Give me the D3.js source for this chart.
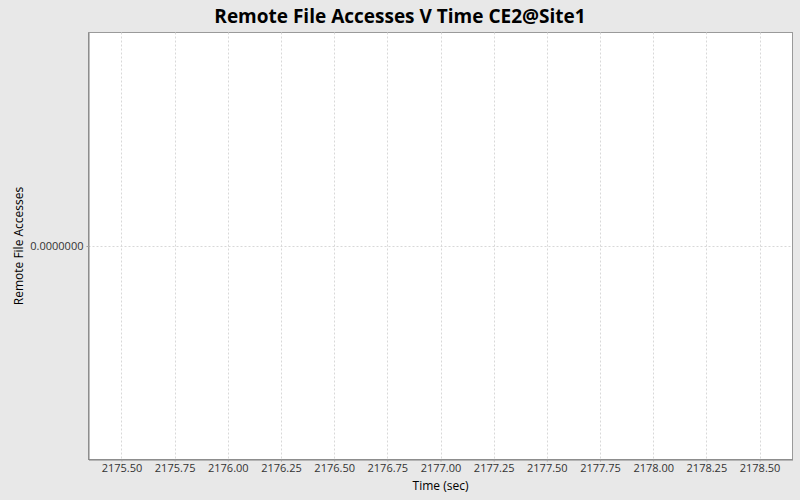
<!DOCTYPE html>
<html><head><meta charset="utf-8">
<script src="https://cdn.jsdelivr.net/npm/d3@7"></script>
<style>body{margin:0;background:#e8e8e8;} svg{display:block;}</style>
</head><body>
<script>
const title = "Remote File Accesses V Time CE2@Site1";
const xLabel = "Time (sec)";
const yLabel = "Remote File Accesses";
const xTicks = [2175.50, 2175.75, 2176.00, 2176.25, 2176.50, 2176.75, 2177.00, 2177.25, 2177.50, 2177.75, 2178.00, 2178.25, 2178.50];
const xDomain = [2175.345, 2178.655];
const yTicks = [0];
const yDomain = [-1, 1];
const seriesTimes = [];
const seriesValues = [];

const W = 800, H = 500;
const m = {left: 88.5, right: 792.5, top: 32.5, bottom: 459.5};
const svg = d3.select("body").append("svg").attr("width", W).attr("height", H);
svg.append("rect").attr("width", W).attr("height", H).attr("fill", "#e8e8e8");

const x = d3.scaleLinear().domain(xDomain).range([m.left, m.right]);
const y = d3.scaleLinear().domain(yDomain).range([m.bottom, m.top]);

svg.append("rect").attr("x", m.left).attr("y", m.top)
  .attr("width", m.right - m.left).attr("height", m.bottom - m.top)
  .attr("fill", "#ffffff").attr("stroke", "#9a9a9a").attr("stroke-width", 1);

// grid
const g = svg.append("g");
g.selectAll("line.vx").data(xTicks).join("line")
  .attr("x1", d => Math.round(x(d)) + 0.5).attr("x2", d => Math.round(x(d)) + 0.5)
  .attr("y1", m.top).attr("y2", m.bottom)
  .attr("stroke", "#d8d8d8").attr("stroke-dasharray", "2,2");
g.selectAll("line.hy").data(yTicks).join("line")
  .attr("y1", d => Math.round(y(d)) + 0.5).attr("y2", d => Math.round(y(d)) + 0.5)
  .attr("x1", m.left).attr("x2", m.right)
  .attr("stroke", "#d8d8d8").attr("stroke-dasharray", "2,2");

// axes
const xAxis = d3.axisBottom(x).tickValues(xTicks).tickFormat(d3.format(".2f")).tickSizeInner(2).tickSizeOuter(0).tickPadding(3);
const xa = svg.append("g").attr("transform", `translate(0,${m.bottom})`).call(xAxis);
xa.select(".domain").attr("stroke", "#808080");
xa.selectAll(".tick line").attr("stroke", "#a0a0a0");
xa.selectAll("text").attr("font-family", "Open Sans, sans-serif").attr("font-size", 11).attr("fill", "#333");

const yAxis = d3.axisLeft(y).tickValues(yTicks).tickFormat(d3.format(".7f")).tickSizeInner(2).tickSizeOuter(0).tickPadding(3);
const ya = svg.append("g").attr("transform", `translate(${m.left},0)`).call(yAxis);
ya.select(".domain").attr("stroke", "#808080");
ya.selectAll(".tick line").attr("stroke", "#a0a0a0");
ya.selectAll("text").attr("font-family", "Open Sans, sans-serif").attr("font-size", 11).attr("fill", "#333");

// series (empty)
svg.append("path").datum(seriesTimes.map((t, i) => [t, seriesValues[i]]))
  .attr("d", d3.line().x(d => x(d[0])).y(d => y(d[1])))
  .attr("fill", "none").attr("stroke", "red");

svg.append("text").attr("x", 400).attr("y", 23).attr("text-anchor", "middle")
  .attr("font-family", "Open Sans, sans-serif").attr("font-weight", "bold").attr("font-size", 19)
  .attr("fill", "#000").text(title);
svg.append("text").attr("x", (m.left + m.right) / 2).attr("y", 490).attr("text-anchor", "middle")
  .attr("font-family", "Open Sans, sans-serif").attr("font-size", 12).attr("fill", "#000").text(xLabel);
svg.append("text").attr("transform", `translate(23,${(m.top + m.bottom) / 2}) rotate(-90)`).attr("text-anchor", "middle")
  .attr("font-family", "Open Sans, sans-serif").attr("font-size", 12).attr("fill", "#000").text(yLabel);
</script>
</body></html>
